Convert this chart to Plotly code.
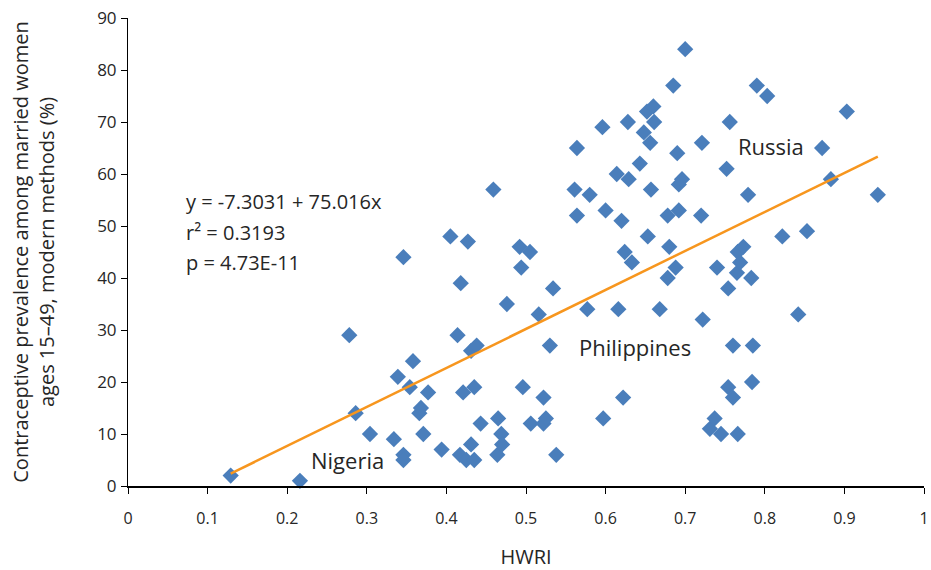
import plotly.graph_objects as go

hwri = [0.129, 0.216, 0.278, 0.286, 0.304, 0.334, 0.339, 0.346, 0.346, 0.346,
        0.354, 0.358, 0.366, 0.368, 0.371, 0.377, 0.394, 0.405, 0.414, 0.417,
        0.418, 0.421, 0.425, 0.427, 0.431, 0.431, 0.435, 0.435, 0.438, 0.443,
        0.459, 0.464, 0.465, 0.469, 0.470, 0.476, 0.492, 0.494, 0.496, 0.505,
        0.506, 0.516, 0.522, 0.522, 0.525, 0.530, 0.534, 0.538, 0.561, 0.564,
        0.564, 0.577, 0.580, 0.596, 0.597, 0.600, 0.614, 0.616, 0.620, 0.622,
        0.624, 0.628, 0.629, 0.633, 0.643, 0.648, 0.652, 0.653, 0.656, 0.657,
        0.660, 0.661, 0.668, 0.678, 0.678, 0.680, 0.685, 0.688, 0.690, 0.692,
        0.692, 0.696, 0.700, 0.720, 0.721, 0.722, 0.731, 0.737, 0.740, 0.745,
        0.752, 0.754, 0.754, 0.756, 0.760, 0.760, 0.765, 0.766, 0.766, 0.769,
        0.773, 0.779, 0.783, 0.784, 0.785, 0.790, 0.803, 0.822, 0.842, 0.853,
        0.872, 0.883, 0.903, 0.942]
cpr = [2, 1, 29, 14, 10, 9, 21, 6, 5, 44,
       19, 24, 14, 15, 10, 18, 7, 48, 29, 6,
       39, 18, 5, 47, 26, 8, 19, 5, 27, 12,
       57, 6, 13, 10, 8, 35, 46, 42, 19, 45,
       12, 33, 17, 12, 13, 27, 38, 6, 57, 52,
       65, 34, 56, 69, 13, 53, 60, 34, 51, 17,
       45, 70, 59, 43, 62, 68, 72, 48, 66, 57,
       73, 70, 34, 52, 40, 46, 77, 42, 64, 58,
       53, 59, 84, 52, 66, 32, 11, 13, 42, 10,
       61, 38, 19, 70, 27, 17, 41, 45, 10, 43,
       46, 56, 40, 20, 27, 77, 75, 48, 33, 49,
       65, 59, 72, 56]

intercept = -7.3031
slope = 75.016
fit_x = [min(hwri), max(hwri)]
fit_y = [intercept + slope * v for v in fit_x]

x_ticks = [0, 0.1, 0.2, 0.3, 0.4, 0.5, 0.6, 0.7, 0.8, 0.9, 1]
x_tick_labels = ["0", "0.1", "0.2", "0.3", "0.4", "0.5", "0.6", "0.7", "0.8", "0.9", "1"]
y_ticks = [0, 10, 20, 30, 40, 50, 60, 70, 80, 90]

FONT = "Open Sans, Noto Sans, Liberation Sans, sans-serif"
TXT = "#262626"

fig = go.Figure()
fig.add_trace(go.Scatter(
    x=hwri, y=cpr, mode="markers",
    marker=dict(symbol="diamond", size=12.5, color="#4A7EBB", line=dict(width=0)),
    showlegend=False, cliponaxis=False))
fig.add_trace(go.Scatter(
    x=fit_x, y=fit_y, mode="lines",
    line=dict(color="#F7961E", width=2.5), showlegend=False))

annots = [
    dict(x=184, y=201, text="y = -7.3031 + 75.016x"),
    dict(x=184, y=232, text="r² = 0.3193"),
    dict(x=184, y=262, text="p = 4.73E-11"),
]
for a in annots:
    fig.add_annotation(x=(a["x"] - 128) / 796, y=(486 - a["y"]) / 5.2,
                       xref="x", yref="y", text=a["text"], showarrow=False,
                       xanchor="left", yanchor="middle",
                       font=dict(size=20, color=TXT, family=FONT))
labels = [("Russia", 771, 146), ("Philippines", 635, 347), ("Nigeria", 347, 460)]
for t, px, py in labels:
    fig.add_annotation(x=(px - 128) / 796, y=(486 - py) / 5.2, xref="x", yref="y",
                       text=t, showarrow=False, xanchor="center", yanchor="middle",
                       font=dict(size=22, color=TXT, family=FONT))

fig.update_layout(
    width=931, height=570,
    margin=dict(l=128, r=7, t=18, b=84, autoexpand=False),
    paper_bgcolor="white", plot_bgcolor="white",
    font=dict(family=FONT, color=TXT),
    xaxis=dict(range=[0, 1], tickvals=x_ticks, ticktext=x_tick_labels,
               automargin=False, ticklabeloverflow="allow",
               showgrid=False, zeroline=False, showline=True, linecolor="black",
               linewidth=2, ticks="outside", ticklen=6, tickcolor="black",
               tickwidth=1, ticklabelstandoff=11,
               tickfont=dict(size=16, color=TXT, family=FONT),
               title=dict(text="HWRI", font=dict(size=20, color=TXT, family=FONT),
                          standoff=24)),
    yaxis=dict(range=[0, 90], tickvals=y_ticks, automargin=False,
               ticklabeloverflow="allow",
               showgrid=False, zeroline=False, showline=True, linecolor="black",
               linewidth=1, ticks="outside", ticklen=6, tickcolor="black",
               tickwidth=1, ticklabelstandoff=1,
               tickfont=dict(size=17, color=TXT, family=FONT),
               title=dict(text="Contraceptive prevalence among married women<br>ages 15–49, modern methods (%)",
                          font=dict(size=20, color=TXT, family=FONT), standoff=37)),
)

fig.write_html("out.html", config={"displayModeBar": False},
               post_script="document.body.style.margin='0';document.body.style.overflow='hidden';")
